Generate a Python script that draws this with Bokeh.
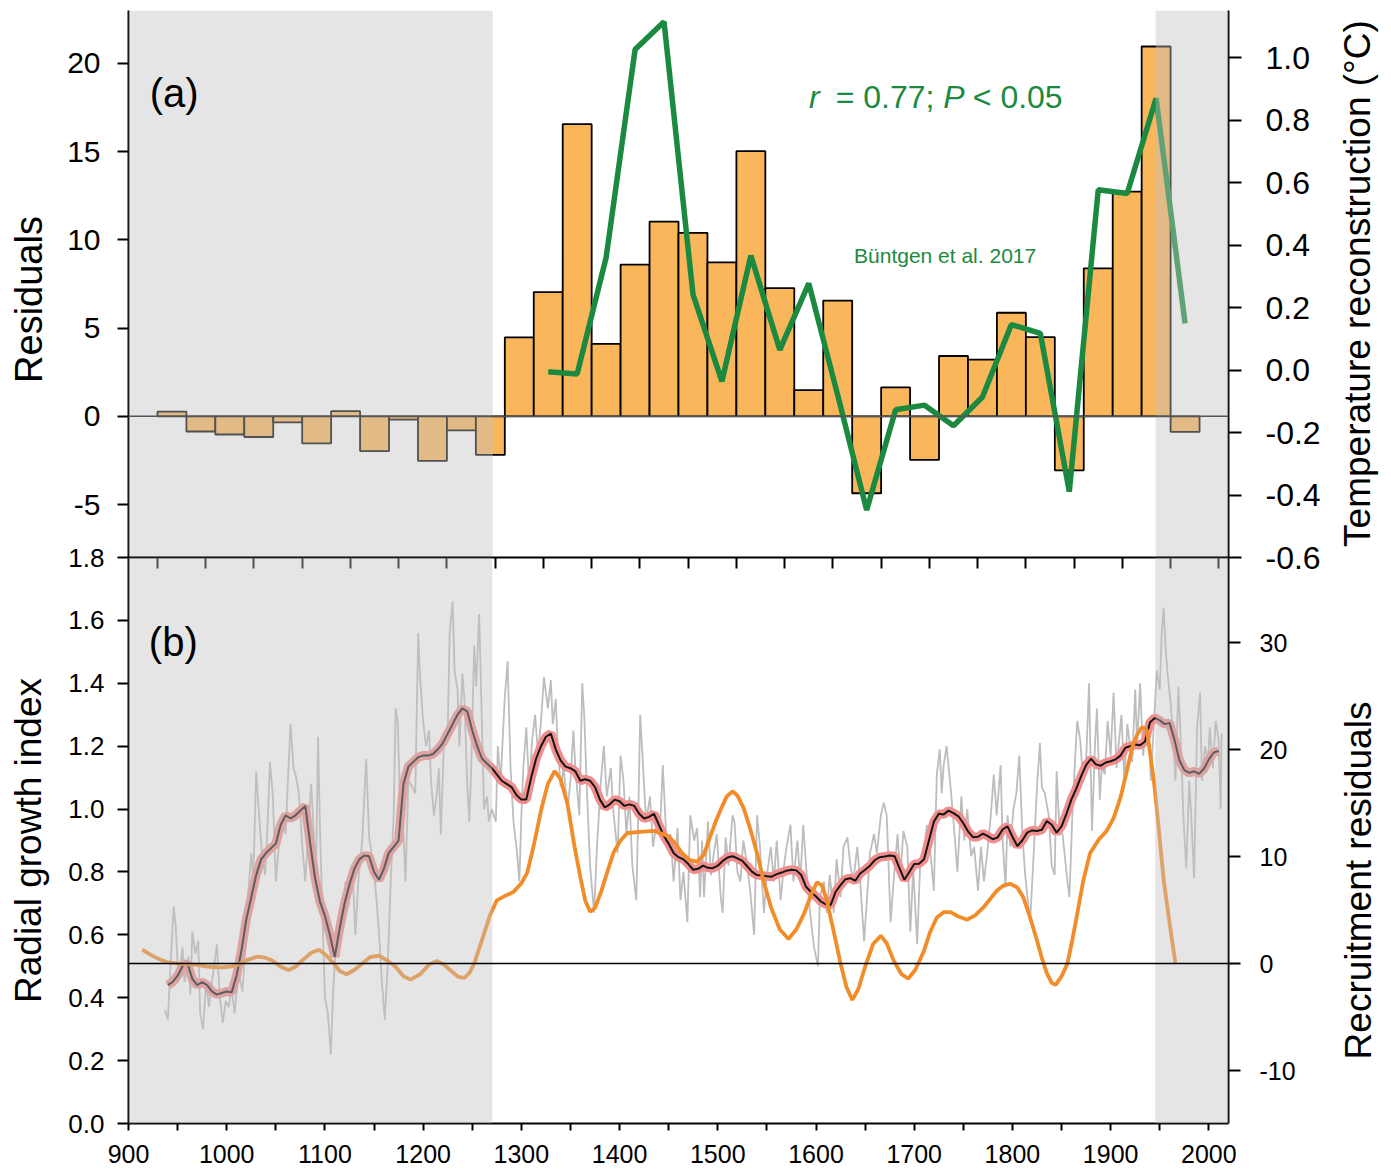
import math
from bokeh.plotting import figure
from bokeh.models import (Range1d, LinearAxis, FixedTicker, PrintfTickFormatter,
                          BoxAnnotation, Span, Label)
from bokeh.layouts import column
from bokeh.embed import file_html
from bokeh.resources import INLINE

FONT = "Liberation Sans"

# ---------------- (a) data ----------------
bin_centers = [945, 975, 1005, 1035, 1065, 1095, 1125, 1155, 1185, 1215, 1245, 1275,
               1305, 1335, 1365, 1395, 1425, 1455, 1485, 1515, 1545, 1575, 1605, 1635,
               1665, 1695, 1725, 1755, 1785, 1815, 1845, 1875, 1905, 1935, 1965, 1995]
residuals = [0.27, -0.86, -1.03, -1.17, -0.34, -1.53, 0.29, -1.97, -0.19, -2.52, -0.80, -2.18,
             4.48, 7.04, 16.56, 4.11, 8.60, 11.03, 10.40, 8.72, 15.03, 7.27, 1.49, 6.56,
             -4.36, 1.64, -2.47, 3.42, 3.21, 5.87, 4.49, -3.06, 8.39, 12.73, 20.96, -0.88]

temp_years = [1335, 1365, 1395, 1425, 1455, 1485, 1515, 1545, 1575, 1605, 1635, 1665,
              1695, 1725, 1755, 1785, 1815, 1845, 1875, 1905, 1935, 1965, 1995]
temp_vals = [-0.005, -0.012, 0.361, 1.027, 1.116, 0.243, -0.036, 0.367, 0.065, 0.278, -0.08, -0.448,
             -0.127, -0.112, -0.178, -0.086, 0.146, 0.118, -0.389, 0.578, 0.566, 0.871, 0.150]

res_ticks = [-5, 0, 5, 10, 15, 20]
temp_ticks = [-0.6, -0.4, -0.2, 0.0, 0.2, 0.4, 0.6, 0.8, 1.0]
top_x_ticks = list(range(930, 2031, 50))

# ---------------- (b) data ----------------
noisy_years = [937, 940, 943, 946, 948, 951, 955, 957, 961, 963, 965, 968, 971, 973, 976, 979, 982, 985,
               988, 990, 993, 996, 999, 1002, 1005, 1008, 1012, 1016, 1019, 1022, 1025, 1027, 1030, 1033,
               1036, 1039, 1041, 1044, 1047, 1050, 1053, 1056, 1060, 1062, 1065, 1068, 1070, 1073, 1075,
               1077, 1080, 1083, 1086, 1089, 1091, 1093, 1095, 1098, 1100, 1103, 1106, 1108, 1111, 1114,
               1117, 1121, 1124, 1128, 1131, 1134, 1138, 1142, 1145, 1148, 1151, 1155, 1158, 1161, 1164,
               1167, 1170, 1172, 1174, 1177, 1180, 1182, 1185, 1189, 1192, 1195, 1197, 1200, 1203, 1206,
               1208, 1211, 1214, 1216, 1218, 1221, 1225, 1227, 1230, 1232, 1235, 1237, 1240, 1242, 1245,
               1247, 1249, 1252, 1254, 1257, 1260, 1262, 1265, 1267, 1270, 1274, 1276, 1279, 1283, 1286,
               1289, 1292, 1295, 1298, 1300, 1302, 1305, 1308, 1311, 1314, 1317, 1320, 1323, 1325, 1327,
               1330, 1332, 1335, 1337, 1340, 1343, 1347, 1350, 1353, 1355, 1359, 1362, 1364, 1367, 1370,
               1374, 1377, 1381, 1384, 1387, 1391, 1394, 1398, 1401, 1404, 1407, 1410, 1413, 1417, 1419,
               1421, 1424, 1427, 1431, 1434, 1438, 1441, 1444, 1448, 1452, 1455, 1459, 1462, 1465, 1469,
               1472, 1476, 1479, 1482, 1484, 1486, 1490, 1493, 1496, 1499, 1503, 1505, 1508, 1511, 1515,
               1517, 1520, 1523, 1526, 1530, 1533, 1537, 1540, 1543, 1547, 1550, 1554, 1557, 1560, 1564,
               1567, 1570, 1574, 1577, 1581, 1584, 1587, 1591, 1594, 1598, 1602, 1604, 1608, 1611, 1614,
               1618, 1621, 1625, 1628, 1632, 1635, 1638, 1642, 1645, 1649, 1652, 1655, 1659, 1662, 1666,
               1669, 1672, 1676, 1679, 1683, 1686, 1689, 1693, 1696, 1699, 1703, 1706, 1710, 1713, 1716,
               1720, 1723, 1726, 1728, 1730, 1733, 1737, 1740, 1744, 1748, 1751, 1754, 1758, 1761, 1765,
               1768, 1771, 1775, 1778, 1781, 1784, 1788, 1790, 1793, 1795, 1798, 1801, 1804, 1807, 1810,
               1813, 1815, 1818, 1822, 1825, 1828, 1830, 1833, 1837, 1840, 1843, 1845, 1848, 1851, 1853,
               1856, 1858, 1861, 1864, 1866, 1869, 1872, 1875, 1878, 1881, 1884, 1886, 1889, 1891, 1894,
               1897, 1900, 1903, 1906, 1908, 1911, 1914, 1917, 1919, 1922, 1925, 1927, 1930, 1933, 1936,
               1939, 1941, 1944, 1947, 1950, 1952, 1954, 1956, 1958, 1961, 1963, 1966, 1969, 1972, 1974,
               1977, 1980, 1982, 1985, 1988, 1991, 1993, 1996, 1999, 2001, 2004, 2007, 2010, 2012, 2013]
noisy_vals = [0.36, 0.33, 0.51, 0.69, 0.63, 0.45, 0.56, 0.45, 0.53, 0.41, 0.61, 0.54, 0.58, 0.35, 0.30, 0.45, 0.37, 0.45,
              0.52, 0.57, 0.40, 0.32, 0.39, 0.37, 0.43, 0.35, 0.48, 0.42, 0.56, 0.74, 0.86, 0.77, 1.12, 0.98,
              0.86, 0.79, 0.90, 1.15, 1.04, 0.77, 0.88, 0.98, 0.92, 1.07, 1.27, 1.13, 1.11, 1.06, 0.98,
              0.88, 0.77, 0.93, 1.08, 0.90, 0.82, 1.23, 0.93, 0.61, 0.40, 0.35, 0.22, 0.40, 0.56, 0.53,
              0.64, 0.77, 0.69, 0.82, 0.60, 0.77, 0.90, 1.16, 0.91, 0.85, 0.77, 0.61, 0.45, 0.33, 0.51,
              0.77, 0.98, 1.32, 1.28, 0.98, 0.93, 0.77, 1.09, 1.07, 1.05, 1.56, 1.41, 1.28, 1.20, 1.25,
              1.09, 0.98, 1.05, 1.13, 0.92, 1.20, 1.25, 1.56, 1.66, 1.44, 1.38, 1.20, 1.43, 1.35, 1.07,
              0.96, 1.14, 1.52, 1.39, 1.62, 1.25, 1.00, 1.04, 0.96, 1.00, 0.96, 1.20, 1.09, 1.35, 1.47,
              1.13, 0.96, 0.88, 0.77, 0.98, 1.13, 1.26, 1.07, 1.22, 1.30, 1.17, 1.28, 1.42, 1.37, 1.32,
              1.41, 1.27, 1.35, 1.20, 1.07, 1.13, 1.00, 1.09, 1.25, 1.13, 0.98, 1.40, 1.30, 1.04, 0.82,
              0.67, 0.88, 1.09, 1.20, 1.04, 1.13, 0.98, 0.86, 1.17, 1.09, 0.92, 1.04, 0.82, 0.71, 0.98,
              1.30, 1.13, 0.96, 1.04, 0.88, 0.96, 0.92, 1.14, 0.88, 0.92, 0.77, 0.94, 0.71, 0.80, 0.64,
              0.98, 0.90, 0.94, 0.72, 0.90, 0.72, 0.96, 0.79, 0.86, 0.92, 0.72, 0.67, 0.91, 0.82, 0.98,
              0.96, 0.80, 0.77, 0.90, 0.82, 0.74, 0.60, 0.98, 0.88, 0.67, 0.79, 0.88, 0.77, 0.90, 0.71,
              0.81, 0.88, 0.95, 0.77, 0.90, 0.77, 0.95, 0.77, 0.67, 0.56, 0.50, 0.72, 0.77, 0.67, 0.79,
              0.67, 0.84, 0.72, 0.88, 0.91, 0.82, 0.77, 0.88, 0.77, 0.58, 0.72, 0.86, 0.92, 0.86, 0.98,
              1.02, 0.98, 0.64, 0.77, 0.92, 0.79, 0.93, 0.88, 0.61, 0.81, 0.57, 0.82, 0.88, 0.95, 0.88,
              0.74, 1.11, 1.19, 1.05, 1.14, 1.20, 1.07, 0.96, 0.80, 1.04, 0.90, 1.00, 0.85, 0.88, 0.74,
              0.88, 0.77, 0.88, 0.98, 1.11, 0.98, 1.14, 0.90, 0.75, 0.98, 0.88, 1.00, 1.05, 1.17, 0.93,
              0.79, 0.73, 0.64, 0.88, 1.07, 1.21, 1.07, 1.05, 0.98, 0.82, 0.79, 1.12, 0.93, 0.92, 0.86,
              0.77, 0.72, 0.98, 1.17, 1.28, 1.22, 1.09, 1.15, 1.40, 0.93, 1.20, 1.32, 1.03, 1.14, 1.11,
              1.28, 1.17, 1.37, 1.13, 1.20, 1.30, 1.09, 1.27, 1.22, 1.15, 1.38, 1.20, 1.40, 1.17, 1.25,
              1.23, 1.09, 1.27, 1.44, 1.38, 1.56, 1.64, 1.51, 1.43, 1.34, 1.26, 1.09, 1.39, 1.17, 0.98,
              0.81, 1.09, 0.98, 0.78, 1.26, 1.37, 1.09, 1.20, 1.15, 1.26, 1.13, 1.28, 1.22, 1.00, 1.24]

mean_years = list(range(940, 2011, 5))
mean_vals = [0.44, 0.45, 0.47, 0.50, 0.51, 0.46, 0.44, 0.45, 0.44, 0.42, 0.41, 0.415, 0.42, 0.417,
             0.47, 0.55, 0.65, 0.72, 0.79, 0.84, 0.86, 0.875, 0.89, 0.95, 0.98, 0.97, 0.98, 0.995,
             1.01, 0.89, 0.78, 0.705, 0.66, 0.60, 0.53, 0.62, 0.70, 0.76, 0.81, 0.84, 0.852, 0.85,
             0.80, 0.775, 0.81, 0.86, 0.88, 0.90, 1.08, 1.135, 1.15, 1.165, 1.17, 1.17, 1.175, 1.19,
             1.21, 1.24, 1.27, 1.30, 1.32, 1.31, 1.25, 1.20, 1.16, 1.145, 1.13, 1.11, 1.09, 1.08,
             1.07, 1.045, 1.03, 1.03, 1.10, 1.16, 1.20, 1.23, 1.24, 1.19, 1.155, 1.135, 1.13, 1.12,
             1.09, 1.095, 1.09, 1.07, 1.03, 1.005, 1.015, 1.03, 1.025, 1.01, 1.015, 1.01, 0.985, 0.97,
             0.975, 0.985, 0.95, 0.915, 0.89, 0.86, 0.847, 0.84, 0.825, 0.807, 0.81, 0.82, 0.813, 0.812,
             0.82, 0.835, 0.846, 0.85, 0.843, 0.835, 0.818, 0.80, 0.79, 0.789, 0.786, 0.785, 0.793, 0.798,
             0.804, 0.807, 0.805, 0.79, 0.752, 0.736, 0.722, 0.706, 0.697, 0.695, 0.737, 0.758, 0.777, 0.78,
             0.772, 0.795, 0.807, 0.82, 0.838, 0.847, 0.849, 0.852, 0.85, 0.812, 0.775, 0.80, 0.825, 0.826,
             0.84, 0.90, 0.96, 0.985, 0.983, 0.995, 0.987, 0.977, 0.955, 0.928, 0.91, 0.912, 0.922, 0.914,
             0.904, 0.91, 0.935, 0.945, 0.912, 0.882, 0.90, 0.925, 0.932, 0.93, 0.934, 0.962, 0.95, 0.925,
             0.945, 0.985, 1.03, 1.065, 1.105, 1.14, 1.16, 1.142, 1.138, 1.148, 1.152, 1.158, 1.17, 1.195,
             1.20, 1.205, 1.203, 1.215, 1.275, 1.29, 1.282, 1.27, 1.274, 1.22, 1.155, 1.124, 1.115, 1.12,
             1.112, 1.128, 1.158, 1.18, 1.185]

rec_years = [914, 921, 927, 934, 941, 955, 968, 982, 995, 1002, 1009, 1020, 1031, 1039, 1046, 1055,
             1063, 1070, 1077, 1086, 1094, 1101, 1109, 1115, 1122, 1130, 1138, 1146, 1155, 1163, 1172,
             1180, 1187, 1197, 1206, 1214, 1221, 1228, 1236, 1242, 1247, 1252, 1257, 1262, 1268, 1275,
             1283, 1292, 1300, 1306, 1313, 1320, 1327, 1334, 1340, 1347, 1354, 1360, 1365, 1370, 1375,
             1381, 1388, 1394, 1401, 1408, 1421, 1435, 1450, 1457, 1463, 1471, 1479, 1486, 1492, 1498,
             1503, 1509, 1515, 1520, 1526, 1533, 1540, 1547, 1554, 1563, 1572, 1580, 1588, 1595, 1601,
             1606, 1611, 1618, 1625, 1631, 1637, 1643, 1650, 1658, 1666, 1672, 1679, 1687, 1694, 1701,
             1710, 1716, 1723, 1730, 1737, 1745, 1754, 1762, 1771, 1784, 1791, 1798, 1805, 1811, 1818,
             1825, 1830, 1835, 1840, 1844, 1850, 1856, 1861, 1866, 1872, 1879, 1888, 1896, 1903, 1910,
             1916, 1922, 1927, 1932, 1937, 1944, 1949, 1954, 1960, 1966]
rec_vals = [1.3, 0.9, 0.6, 0.3, 0.1, -0.05, -0.1, -0.3, -0.35, -0.3, -0.2, 0.3, 0.65, 0.55, 0.3, -0.3,
            -0.6, -0.3, 0.3, 1.0, 1.3, 0.8, 0.0, -0.7, -1.0, -0.6, 0.0, 0.6, 0.75, 0.3, -0.3,
            -1.2, -1.5, -1.0, -0.1, 0.25, -0.1, -0.65, -1.25, -1.35, -0.9, 0.0, 1.4, 2.8, 4.5, 5.9,
            6.3, 6.7, 7.5, 8.5, 11.2, 14.3, 16.8, 18.0, 17.2, 14.9, 11.0, 8.1, 5.9, 4.85, 5.2,
            6.65, 8.7, 10.4, 11.5, 12.2, 12.3, 12.4, 11.9, 11.2, 10.4, 9.7, 9.5, 10.2, 11.8, 13.3,
            14.4, 15.6, 16.1, 15.7, 14.6, 12.6, 10.3, 7.6, 5.3, 3.2, 2.3, 3.2, 4.7, 6.4, 7.6,
            7.3, 5.9, 3.0, 0.0, -2.2, -3.4, -2.4, -0.3, 1.8, 2.6, 1.9, 0.3, -1.0, -1.4, -0.6,
            1.2, 2.9, 4.3, 4.8, 4.8, 4.4, 4.1, 4.5, 5.3, 6.8, 7.3, 7.45, 7.1, 6.2, 4.3,
            2.15, 0.5, -0.9, -1.8, -2.0, -1.2, 0.0, 2.2, 4.65, 7.7, 10.3, 11.6, 12.4, 13.6, 15.5,
            17.8, 20.2, 21.4, 22.1, 21.8, 17.1, 12.6, 7.8, 3.8, 0.0]

growth_ticks = [0.0, 0.2, 0.4, 0.6, 0.8, 1.0, 1.2, 1.4, 1.6, 1.8]
rec_ticks = [-10, 0, 10, 20, 30]
x_ticks = list(range(900, 2001, 100))
x_minor = list(range(950, 1951, 100))

# shaded (non-significant) periods, in each panel's own year scale
top_shade = [(None, 1277.5), (1964.5, None)]
bottom_shade = [(None, 1270.4), (1945.4, None)]

BAR = "#FAB65B"
GREEN = "#1B8A40"
ORANGE = "#F28C28"
PINK = "#EF8E8C"
NOISE = "#BDBDBD"
SHADE = "#C0C2C2"

W, H = 1391, 1175
FL, FR = 128, 163      # left / right borders around the plot frames


def style_axis(ax, label_size, tick_out, standoff):
    ax.axis_line_width = 2
    ax.axis_line_color = "black"
    ax.major_tick_line_width = 2
    ax.major_tick_line_color = "black"
    ax.major_tick_out = tick_out
    ax.major_tick_in = 0
    ax.minor_tick_line_color = None
    ax.major_label_text_font = FONT
    ax.major_label_text_font_size = label_size
    ax.major_label_text_color = "black"
    ax.major_label_standoff = standoff


# ================= top panel =================
p1 = figure(width=W, height=577, x_range=Range1d(900, 2040), y_range=Range1d(-8, 23),
            output_backend="svg", toolbar_location=None, x_axis_location=None,
            min_border_top=10, min_border_bottom=20, min_border_left=FL, min_border_right=FR,
            outline_line_color=None, background_fill_color="white", border_fill_color="white")
p1.grid.visible = False
p1.extra_y_ranges = {"temp": Range1d(-0.6, 1.152)}

ax = p1.yaxis[0]
ax.ticker = FixedTicker(ticks=res_ticks)
ax.formatter = PrintfTickFormatter(format="%d")
style_axis(ax, "30px", 11, 17)

axr = LinearAxis(y_range_name="temp", ticker=FixedTicker(ticks=temp_ticks),
                 formatter=PrintfTickFormatter(format="%.1f"))
style_axis(axr, "32px", 13, 24)
p1.add_layout(axr, "right")

p1.vbar(x=bin_centers, width=30, top=residuals, bottom=0, fill_color=BAR,
        line_color="black", line_width=1.8)
p1.line(temp_years, temp_vals, y_range_name="temp", line_color=GREEN, line_width=5.5)

for lo, hi in top_shade:
    p1.add_layout(BoxAnnotation(left=lo, right=hi, fill_color=SHADE, fill_alpha=0.42,
                                line_color=None))
p1.add_layout(Span(location=0, dimension="width", line_color="#555555", line_width=1.5))

p1.add_layout(Label(x=922, y=18.3, text="(a)", text_font=FONT, text_font_size="40px",
                    text_color="black", text_baseline="alphabetic"))
for xx, txt, style in [(1605.2, "r", "italic"), (1632.9, "= 0.77;", "normal"),
                       (1744.5, "P", "italic"), (1775.0, "< 0.05", "normal")]:
    p1.add_layout(Label(x=xx, y=18.07, text=txt, text_font=FONT, text_font_size="32px",
                        text_font_style=style, text_color=GREEN, text_baseline="alphabetic"))
p1.add_layout(Label(x=1651.9, y=9.09, text="Büntgen et al. 2017", text_font=FONT,
                    text_font_size="21px", text_color=GREEN, text_baseline="alphabetic"))

# ================= bottom panel =================
p2 = figure(width=W, height=638, x_range=Range1d(900, 2020), y_range=Range1d(0, 1.8),
            output_backend="svg", toolbar_location=None,
            min_border_top=20, min_border_bottom=52, min_border_left=FL, min_border_right=FR,
            outline_line_color=None, background_fill_color=None, border_fill_color=None)
p2.margin = (-40, 0, 0, 0)
p2.grid.visible = False
p2.extra_y_ranges = {"rec": Range1d(-14.95, 37.95)}
p2.extra_x_ranges = {"xtop": Range1d(900, 2040)}

bx = p2.xaxis[0]
bx.ticker = FixedTicker(ticks=x_ticks, minor_ticks=x_minor)
style_axis(bx, "25px", 7, 14)
bx.minor_tick_line_color = "black"
bx.minor_tick_line_width = 2
bx.minor_tick_out = 7
bx.minor_tick_in = 0

ta = LinearAxis(x_range_name="xtop", ticker=FixedTicker(ticks=top_x_ticks),
                major_label_overrides={t: "" for t in top_x_ticks})
style_axis(ta, "1px", 0, 0)
ta.major_tick_in = 11
ta.major_tick_out = 0
p2.add_layout(ta, "above")

ly = p2.yaxis[0]
ly.ticker = FixedTicker(ticks=growth_ticks)
ly.formatter = PrintfTickFormatter(format="%.1f")
style_axis(ly, "26px", 11, 13)

ry = LinearAxis(y_range_name="rec", ticker=FixedTicker(ticks=rec_ticks),
                formatter=PrintfTickFormatter(format="%d"))
style_axis(ry, "25px", 12, 19)
p2.add_layout(ry, "right")

p2.line(noisy_years, noisy_vals, line_color=NOISE, line_width=1.8)
p2.line(mean_years, mean_vals, line_color=PINK, line_width=9)
p2.line(mean_years, mean_vals, line_color="#151515", line_width=2)
p2.line(rec_years, rec_vals, y_range_name="rec", line_color=ORANGE, line_width=3.8)

for lo, hi in bottom_shade:
    p2.add_layout(BoxAnnotation(left=lo, right=hi, fill_color=SHADE, fill_alpha=0.42,
                                line_color=None))
p2.add_layout(Span(location=0, dimension="width", y_range_name="rec", line_color="black",
                   line_width=1.5))
p2.add_layout(Label(x=920.7, y=1.53, text="(b)", text_font=FONT, text_font_size="40px",
                    text_color="black", text_baseline="alphabetic"))

# ===== transparent overlay (separate root) holding the rotated axis titles =====
p3 = figure(width=W, height=H, x_range=Range1d(0, W), y_range=Range1d(H, 0),
            output_backend="svg", toolbar_location=None, x_axis_location=None,
            y_axis_location=None, min_border=0, outline_line_color=None,
            background_fill_color=None, border_fill_color=None)
p3.margin = (-H, 0, 0, 0)
p3.grid.visible = False
titles = [("Residuals", 28, 299, "38px"),
          ("Radial growth index", 28, 840, "37px"),
          ("Temperature reconstruction (°C)", 1357, 283, "37px"),
          ("Recruitment residuals", 1358, 880, "37px")]
for txt, tx, ty, size in titles:
    p3.add_layout(Label(x=tx, y=ty, text=txt, angle=math.pi / 2, text_align="center",
                        text_baseline="middle", text_font=FONT, text_font_size=size,
                        text_color="black"))

layout = column(p1, p2)
open("out.html", "w").write(file_html([layout, p3], INLINE))
